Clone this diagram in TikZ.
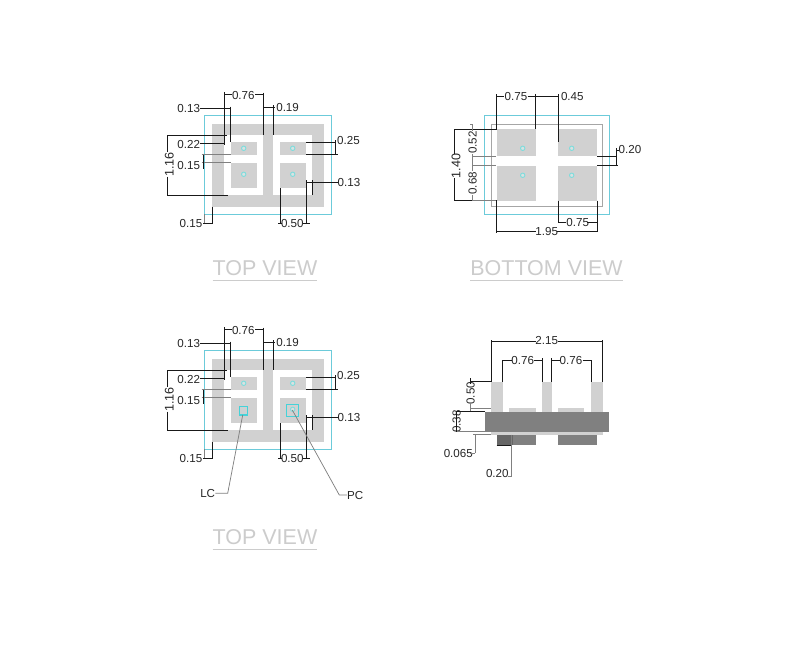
\documentclass[tikz,border=0pt]{standalone}
\usepackage{fontspec}
\setmainfont{Liberation Sans}
\definecolor{rimcyan}{HTML}{6CCBDA}
\definecolor{dotcyan}{HTML}{7FDCDC}
\definecolor{markcyan}{HTML}{45D2D8}
\tikzset{
	dimline/.style={line width=0.75pt, color=black!90},
	thinline/.style={line width=0.55pt, color=black!50},
	lbl/.style={inner sep=0pt, font=\fontsize{8.7pt}{10pt}\selectfont, color=black!85},
	biglbl/.style={inner sep=0pt, rotate=90, font=\fontsize{9.4pt}{10pt}\selectfont, color=black!85},
	viewname/.style={inner sep=0pt, font=\fontsize{16.1pt}{18pt}\selectfont, color=black!20},
	outline/.style={line width=0.9pt, color=rimcyan},
	pad/.style={fill=black!18},
	dot/.style={line width=0.7pt, color=dotcyan, fill=dotcyan!40!black!18},
}
\def\viewline(#1)(#2){\draw[line width=0.55pt, color=black!20] (#1) -- (#2);}
\begin{document}
\begin{tikzpicture}[x=0.75pt, y=-0.75pt]
	%%%%% START %%%%%
	\useasboundingbox[fill=white] (0, 0) rectangle (800, 650);

	% the two top views
	\foreach \oy in {0, 235} {
		\begin{scope}[shift={(0, \oy)}]
			\draw[outline] (204.7, 115.7) rectangle (331.3, 214.3);
			\fill[pad] (212.3, 124.3) rectangle (323.7, 206.7);
			\fill[white] (224.3, 135) rectangle (263.3, 195);
			\fill[white] (273.3, 135) rectangle (312.3, 195);
			\foreach \px in {230.7, 280} {
				\fill[pad] (\px, 142) rectangle (\px+26, 154.7);
				\fill[pad] (\px, 162.7) rectangle (\px+26, 188.3);
			}
			\foreach \px in {243.7, 292.7} {
				\draw[dot] (\px, 148.3) circle (2.2);
				\draw[dot] (\px, 174.3) circle (2.2);
			}

			\node[lbl] (top\oy-a) at (243.3, 95.7) {0.76};
			\node[lbl] (top\oy-b) at (188.7, 108.5) {0.13};
			\node[lbl] (top\oy-c) at (287.6, 108) {0.19};
			\node[lbl] (top\oy-d) at (188.7, 144.3) {0.22};
			\node[lbl] (top\oy-e) at (188.7, 166) {0.15};
			\node[biglbl] (top\oy-f) at (169.3, 164.5) {1.16};
			\node[lbl] (top\oy-g) at (191, 223.3) {0.15};
			\node[lbl] (top\oy-h) at (292.3, 224) {0.50};
			\node[lbl] (top\oy-i) at (348.5, 140.5) {0.25};
			\node[lbl] (top\oy-j) at (349, 182.7) {0.13};

			\draw[dimline] (224.3, 92) -- (224.3, 145) (224.3, 94) -- (232, 94);
			\draw[dimline] (263.3, 92.5) -- (263.3, 135) (263.3, 94) -- (255, 94);
			\draw[dimline] (199.5, 108.7) -- (230.7, 108.7) (230.7, 106.7) -- (230.7, 142);
			\draw[dimline] (263.3, 107.3) -- (275, 107.3) (273.3, 105) -- (273.3, 135);
			\draw[dimline] (199.5, 143.3) -- (224.3, 143.3);
			\draw[dimline] (167.3, 135) -- (227, 135) (167.3, 195) -- (228, 195);
			\draw[dimline] (167.3, 135) -- (167.3, 151.7) (167.3, 176.7) -- (167.3, 195);
			\draw[thinline] (201.7, 154.7) -- (230.7, 154.7) (201.7, 162.7) -- (230.7, 162.7);
			\draw[dimline] (203.3, 154.7) -- (203.3, 169.3);
			\draw[dimline] (203.3, 223.3) -- (212.3, 223.3) (212.3, 206.7) -- (212.3, 224);
			\draw[thinline] (204.7, 214.3) -- (204.7, 223.3);
			\draw[dimline] (306, 142) -- (335.7, 142) (306, 154.7) -- (337.7, 154.7);
			\draw[dimline] (335.7, 140) -- (335.7, 154.7);
			\draw[dimline] (306, 182.7) -- (338.3, 182.7);
			\draw[dimline] (306, 180) -- (306, 224) (312.3, 180) -- (312.3, 195);
			\draw[dimline] (280, 188.3) -- (280, 224) (278, 223.3) -- (282, 223.3);
			\draw[dimline] (303, 223.3) -- (310, 223.3);
		\end{scope}
	}

	% extras of the lower top view
	\draw[line width=0.9pt, color=markcyan, fill=markcyan!25!black!22] (239.3, 406.3) rectangle (247.7, 415);
	\draw[line width=0.9pt, color=markcyan] (286.7, 404.3) rectangle (298.7, 416.3);
	\node[lbl] (lc) at (207.7, 493.3) {LC};
	\node[lbl] (pc) at (355.3, 495) {PC};
	\draw[thinline] (lc.east) -- (227.7, 493.3) -- (242.7, 415);
	\draw[thinline] (pc.west) -- (339.3, 495) -- (292.3, 410);

	% bottom view
	\draw[outline] (484.7, 115.7) rectangle (609.3, 214.3);
	\draw[line width=0.7pt, color=black!35] (491.3, 124.3) rectangle (602.7, 206.7);
	\foreach \px in {496.7, 558.3} {
		\fill[pad] (\px, 129.3) rectangle (\px+39, 156);
		\fill[pad] (\px, 166) rectangle (\px+39, 200.7);
	}
	\foreach \px in {522.7, 571.7} {
		\draw[dot] (\px, 148.3) circle (2.2);
		\draw[dot] (\px, 175.3) circle (2.2);
	}

	\node[lbl] (bot-a) at (516, 96.7) {0.75};
	\node[lbl] (bot-b) at (572.3, 96.7) {0.45};
	\node[biglbl] (bot-c) at (456, 166) {1.40};
	\node[lbl, rotate=90] (bot-d) at (472.7, 142.7) {0.52};
	\node[lbl, rotate=90] (bot-e) at (472.7, 183.3) {0.68};
	\node[lbl] (bot-f) at (630, 150) {0.20};
	\node[lbl] (bot-g) at (577.7, 222.7) {0.75};
	\node[lbl] (bot-h) at (546.7, 231.7) {1.95};

	\draw[dimline] (496.7, 94) -- (496.7, 129.3) (535.7, 94) -- (535.7, 129.3);
	\draw[dimline] (496.7, 96) -- (504, 96) (527.5, 96) -- (558.3, 96);
	\draw[dimline] (558.3, 94) -- (558.3, 141.7);
	\draw[dimline] (454, 129.3) -- (496.7, 129.3) (454, 200.7) -- (496.7, 200.7);
	\draw[dimline] (454.7, 129.3) -- (454.7, 154) (454.7, 178) -- (454.7, 200.7);
	\draw[thinline] (470, 124.3) -- (473, 124.3) (472.7, 124.3) -- (472.7, 131);
	\draw[thinline] (472.7, 156) -- (496, 156) (472.7, 165.3) -- (496, 165.3);
	\draw[thinline] (472.7, 154) -- (472.7, 171) (472.7, 195) -- (472.7, 200.7) (472.7, 200.7) -- (496, 200.7);
	\draw[dimline] (597.3, 156) -- (616.7, 156) (597.3, 165.3) -- (617.7, 165.3);
	\draw[dimline] (616.7, 148.3) -- (616.7, 165.3) (616.7, 150) -- (619.3, 150);
	\draw[dimline] (558.3, 200.7) -- (558.3, 223) (558.3, 222.7) -- (566, 222.7);
	\draw[dimline] (597.3, 200.7) -- (597.3, 232) (587.3, 222.7) -- (597.3, 222.7);
	\draw[dimline] (496.7, 200.7) -- (496.7, 232.7);
	\draw[dimline] (496.7, 231.7) -- (536, 231.7) (557.3, 231.7) -- (597.3, 231.7);

	% side view
	\fill[pad] (491.3, 431.7) rectangle (602.7, 434.7);
	\foreach \px in {491.3, 591.3} \fill[pad] (\px, 381.7) rectangle (\px+11.4, 411.7);
	\fill[pad] (541.7, 381.7) rectangle (551.7, 411.7);
	\fill[pad] (509.3, 407.7) rectangle (536, 411.7);
	\fill[pad] (558.3, 407.7) rectangle (584.3, 411.7);
	\fill[black!50] (484.7, 411.7) rectangle (609.3, 431.7);
	\fill[black!50] (496.7, 434.7) rectangle (535.7, 445.3);
	\fill[black!50] (558.3, 434.7) rectangle (597.3, 445.3);
	\fill[black!60] (496.7, 434.7) rectangle (512.7, 445.3);

	\node[lbl] (side-a) at (546.7, 341) {2.15};
	\node[lbl] (side-b) at (522.7, 361) {0.76};
	\node[lbl] (side-c) at (571, 361) {0.76};
	\node[lbl, rotate=90] (side-d) at (470.7, 393.3) {0.50};
	\node[lbl, rotate=90] (side-e) at (456.7, 421.7) {0.38};
	\node[lbl] (side-f) at (458.3, 453.3) {0.065};
	\node[lbl] (side-g) at (497.3, 474) {0.20};

	\draw[dimline] (491.3, 340) -- (491.3, 381.7) (602.7, 340) -- (602.7, 381.7);
	\draw[dimline] (491.3, 341) -- (535.5, 341) (558, 341) -- (602.7, 341);
	\draw[dimline] (502.7, 360) -- (502.7, 381.7) (542.3, 358.3) -- (542.3, 381.7);
	\draw[dimline] (502.7, 360) -- (511.7, 360) (534, 360) -- (542.3, 360);
	\draw[dimline] (551.7, 358.3) -- (551.7, 381.7) (591.3, 360) -- (591.3, 381.7);
	\draw[dimline] (551.7, 360) -- (560, 360) (582.7, 360) -- (591.3, 360);
	\draw[dimline] (470, 381.7) -- (491.3, 381.7) (470, 378) -- (470, 384);
	\draw[thinline] (470, 408) -- (491.3, 408) (470, 403) -- (470, 411.7);
	\draw[dimline] (456, 411.7) -- (484.7, 411.7);
	\draw[thinline] (456, 431.7) -- (484.7, 431.7);
	\draw[dimline] (456, 411.7) -- (456, 431.7);
	\draw[thinline] (473.3, 434.7) -- (491.3, 434.7) (475, 434.7) -- (475, 453.3) (470, 453.3) -- (475, 453.3);
	\draw[dimline] (496.7, 445.3) -- (512, 445.3);
	\draw[thinline] (511.3, 434.7) -- (511.3, 476.7) (507.5, 476.7) -- (511.3, 476.7);

	% titles
	\node[viewname] (top-title) at (265, 268) {TOP VIEW};
	\viewline(212.7, 280.5)(317.3, 280.5);
	\node[viewname] (bottom-title) at (546.5, 268) {BOTTOM VIEW};
	\viewline(470, 280.5)(623, 280.5);
	\node[viewname] (low-title) at (265, 537) {TOP VIEW};
	\viewline(212.7, 549.5)(317.3, 549.5);

	%%%%% END %%%%%
\end{tikzpicture}
\end{document}
